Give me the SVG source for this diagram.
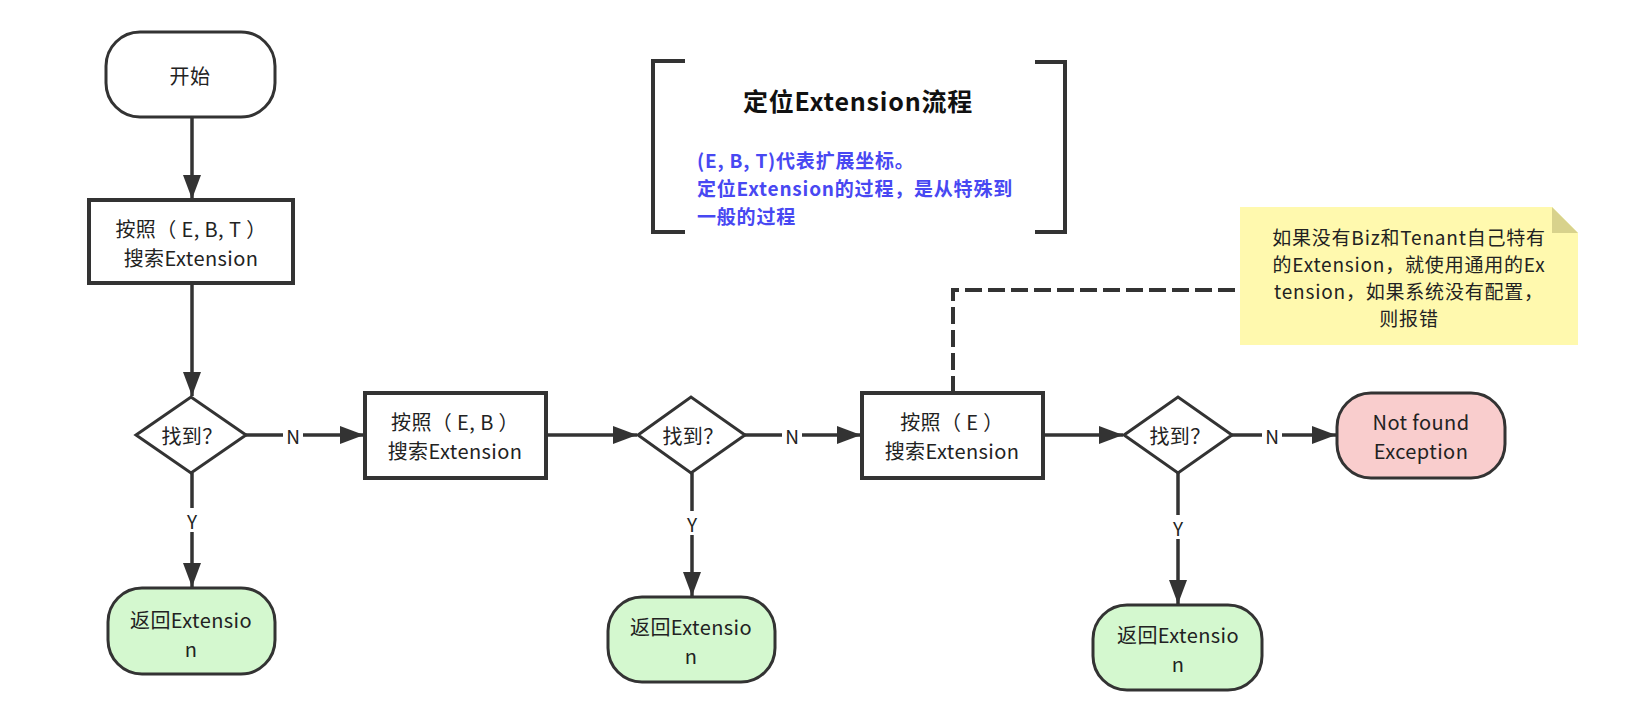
<svg xmlns="http://www.w3.org/2000/svg" width="1642" height="716" viewBox="0 0 1642 716">
<defs>
<style>
text{font-family:"Noto Sans CJK SC","Noto Sans",sans-serif;fill:#222;dominant-baseline:central;text-anchor:middle}
.t{font-size:20px;letter-spacing:0.4px}
.lbl{font-size:19px}
.box{fill:#fff;stroke:#333;stroke-width:4}
.dia{fill:#fff;stroke:#333;stroke-width:3}
.term{stroke:#333;stroke-width:3}
.edge{fill:none;stroke:#333;stroke-width:3.5}
.dash{fill:none;stroke:#333;stroke-width:4;stroke-dasharray:17 6}
.title{font-size:25px;font-weight:bold;fill:#111;letter-spacing:0.8px}
.blue{font-size:19px;font-weight:bold;fill:#4848F2;text-anchor:start;letter-spacing:0.8px}
.note{font-size:19px;letter-spacing:0.8px}
</style>
<marker id="arr" markerUnits="userSpaceOnUse" markerWidth="26" markerHeight="20" refX="24" refY="9" orient="auto">
<path d="M0,0 L24,9 L0,18 Z" fill="#333"/>
</marker>
</defs>
<rect width="1642" height="716" fill="#fff"/>

<g id="connectors">
<path class="edge" d="M192,117 V199" marker-end="url(#arr)"/>
<path class="edge" d="M192,283 V396" marker-end="url(#arr)"/>
<path class="edge" d="M246,435 H364" marker-end="url(#arr)"/>
<path class="edge" d="M546,435 H637" marker-end="url(#arr)"/>
<path class="edge" d="M745,435 H861" marker-end="url(#arr)"/>
<path class="edge" d="M1043,435 H1123" marker-end="url(#arr)"/>
<path class="edge" d="M1232,435 H1336" marker-end="url(#arr)"/>
<path class="edge" d="M192,473 V587" marker-end="url(#arr)"/>
<path class="edge" d="M692,473 V596" marker-end="url(#arr)"/>
<path class="edge" d="M1178,473 V604" marker-end="url(#arr)"/>
<path class="dash" d="M953,393 V290 H1240"/>
<rect x="283" y="423" width="20" height="24" fill="#fff"/>
<text class="lbl" x="293" y="435">N</text>
<rect x="782" y="423" width="20" height="24" fill="#fff"/>
<text class="lbl" x="792" y="435">N</text>
<rect x="1262" y="423" width="20" height="24" fill="#fff"/>
<text class="lbl" x="1272" y="435">N</text>
<rect x="182" y="508" width="20" height="24" fill="#fff"/>
<text class="lbl" x="192" y="520">Y</text>
<rect x="682" y="511" width="20" height="24" fill="#fff"/>
<text class="lbl" x="692" y="523">Y</text>
<rect x="1168" y="515" width="20" height="24" fill="#fff"/>
<text class="lbl" x="1178" y="527">Y</text>
</g>

<g id="start">
<rect class="term" x="106" y="32" width="169" height="85" rx="34" fill="#fff"/>
<text class="t" x="190" y="75">开始</text>
</g>

<g id="search-ebt">
<rect class="box" x="89" y="200" width="204" height="83"/>
<text class="t" x="191" y="228">按照（ E, B, T ）</text>
<text class="t" x="191" y="257">搜索Extension</text>
</g>

<g id="found1">
<path class="dia" d="M136,435 L191,397 L246,435 L191,473 Z"/>
<text class="t" x="192" y="435">找到？</text>
</g>

<g id="search-eb">
<rect class="box" x="365" y="393" width="181" height="85"/>
<text class="t" x="455" y="421">按照（ E, B ）</text>
<text class="t" x="455" y="450">搜索Extension</text>
</g>

<g id="found2">
<path class="dia" d="M638,435 L691,397 L745,435 L691,473 Z"/>
<text class="t" x="693" y="435">找到？</text>
</g>

<g id="search-e">
<rect class="box" x="862" y="393" width="181" height="85"/>
<text class="t" x="952" y="421">按照（ E ）</text>
<text class="t" x="952" y="450">搜索Extension</text>
</g>

<g id="found3">
<path class="dia" d="M1124,435 L1178,397 L1232,435 L1178,473 Z"/>
<text class="t" x="1180" y="435">找到？</text>
</g>

<g id="not-found">
<rect class="term" x="1337" y="393" width="168" height="85" rx="34" fill="#F9CDCD"/>
<text class="t" x="1421" y="421">Not found</text>
<text class="t" x="1421" y="450">Exception</text>
</g>

<g id="return1">
<rect class="term" x="108" y="588" width="167" height="86" rx="34" fill="#D4F8CF"/>
<text class="t" x="191" y="619">返回Extensio</text>
<text class="t" x="191" y="648">n</text>
</g>

<g id="return2">
<rect class="term" x="608" y="597" width="167" height="85" rx="34" fill="#D4F8CF"/>
<text class="t" x="691" y="626">返回Extensio</text>
<text class="t" x="691" y="655">n</text>
</g>

<g id="return3">
<rect class="term" x="1093" y="605" width="169" height="85" rx="34" fill="#D4F8CF"/>
<text class="t" x="1178" y="634">返回Extensio</text>
<text class="t" x="1178" y="663">n</text>
</g>

<g id="title-bracket">
<path d="M685,61 H653 V232 H685" fill="none" stroke="#333" stroke-width="4"/>
<path d="M1035,62 H1065 V232 H1035" fill="none" stroke="#333" stroke-width="4"/>
<text class="title" x="858" y="100">定位Extension流程</text>
<text class="blue" x="697" y="159">(E, B, T)代表扩展坐标。</text>
<text class="blue" x="697" y="187">定位Extension的过程，是从特殊到</text>
<text class="blue" x="697" y="215">一般的过程</text>
</g>

<g id="note">
<path d="M1240,207 H1552 L1578,233 V345 H1240 Z" fill="#FFF9AE"/>
<path d="M1552,207 L1578,233 H1552 Z" fill="#D8D28C"/>
<text class="note" x="1409" y="236">如果没有Biz和Tenant自己特有</text>
<text class="note" x="1409" y="263">的Extension，就使用通用的Ex</text>
<text class="note" x="1409" y="290">tension，如果系统没有配置，</text>
<text class="note" x="1409" y="317">则报错</text>
</g>
</svg>
